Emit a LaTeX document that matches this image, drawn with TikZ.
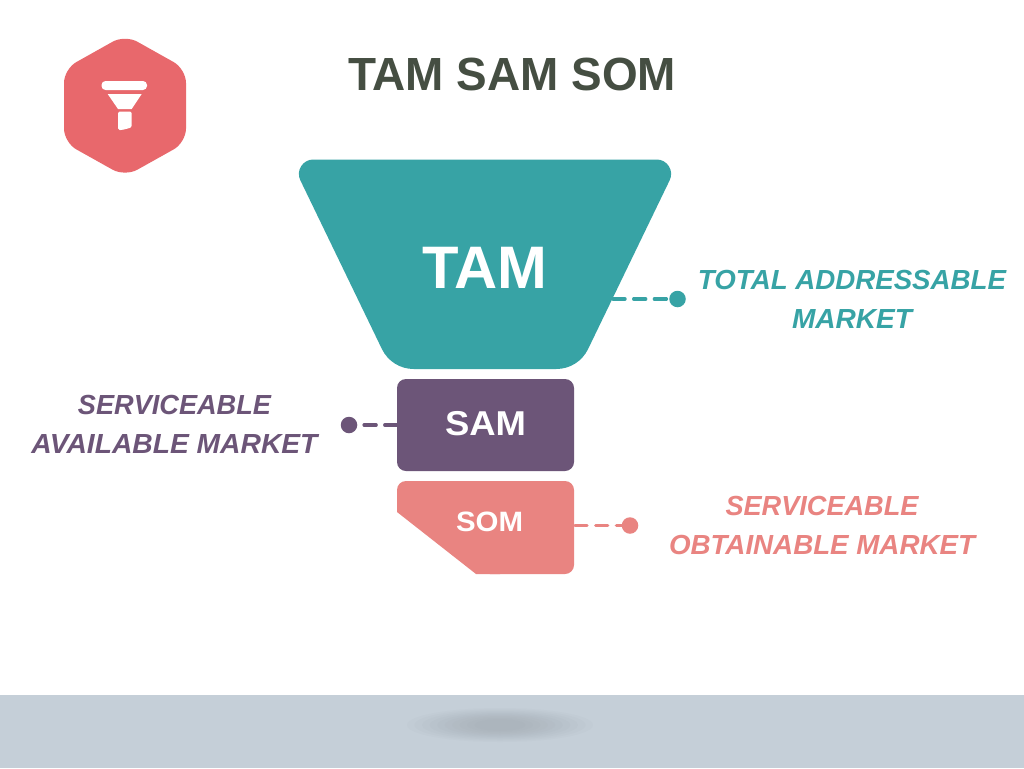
\documentclass[tikz,border=0pt]{standalone}
\usepackage{graphicx}
\usepackage{fontspec}
\setmainfont{Liberation Sans}
\newcommand{\fw}[2]{\resizebox{#1pt}{\height}{#2}}
\definecolor{tamc}{HTML}{37A3A5}
\definecolor{samc}{HTML}{6C5578}
\definecolor{somc}{HTML}{E98481}
\definecolor{hexc}{HTML}{E8686C}
\definecolor{titlec}{HTML}{454E42}
\definecolor{groundc}{HTML}{C5CFD8}
\definecolor{shadowc}{HTML}{8F969E}
\tikzset{
  x=1pt,y=-1pt,
  lead/.style={line width=3.4pt,line cap=round,dash pattern=on 12pt off 8.7pt},
  dotnode/.style={circle,inner sep=0pt,minimum size=16.5pt},
  labeltext/.style={align=center,inner sep=0pt,font=\fontsize{27.6}{39}\selectfont\bfseries\itshape},
  boxtext/.style={inner sep=0pt,text=white,font=\bfseries},
}
\begin{document}
\begin{tikzpicture}
\useasboundingbox (0,0) rectangle (1024,768);
\fill[white] (0,0) rectangle (1024,768);
% ground
\fill[groundc] (0,695) rectangle (1024,768);
\foreach \k in {1,...,10}{
  \fill[shadowc,opacity=0.05] (500,725) ellipse ({93-7.5*(\k-1)} and {17-1.25*(\k-1)});
}
% icon
\fill[hexc,rounded corners=14pt] (125,34.8) -- (186,69) -- (186,142.5) -- (125,176.6) -- (64,142.5) -- (64,69) -- cycle;
\fill[white,rounded corners=4pt] (101.5,81) rectangle (147,90);
\fill[white] (107.7,94) -- (141.7,94) -- (131.7,109) -- (118,109) -- cycle;
\fill[white,rounded corners=1.5pt] (118,111.5) -- (131.6,111.5) -- (131.6,127.5) -- (122,130) -- (118,130) -- cycle;
% title
\node[inner sep=0pt,text=titlec,font=\fontsize{46.5}{50}\selectfont\bfseries] (title) at (512,74) {\fw{328}{TAM SAM SOM}};
% funnel
\fill[tamc] (313.3,159.5) -- (656.7,159.5)
  .. controls (667.3,159.5) and (674.3,170.7) .. (669.7,180.2)
  -- (588,349.2)
  .. controls (582.1,361.3) and (569.8,369) .. (556.4,369)
  -- (413.6,369)
  .. controls (400.2,369) and (387.9,361.3) .. (382,349.2)
  -- (300.3,180.2)
  .. controls (295.7,170.7) and (302.7,159.5) .. (313.3,159.5) -- cycle;
\node[boxtext,font=\fontsize{60}{64}\selectfont\bfseries] (tam) at (485,267.5) {\fw{125}{TAM}};
\node[draw=none,fill=samc,rounded corners=9pt,minimum width=177pt,minimum height=92pt,inner sep=0pt] (sambox) at (485.5,425) {};
\node[boxtext,font=\fontsize{34.5}{38}\selectfont\bfseries] (sam) at (485.5,424) {\fw{81}{SAM}};
\fill[somc,rounded corners=9pt] (397,497) -- (397,481) -- (574,481) -- (574,574) -- (490,574);
\fill[somc] (397,490) -- (397,512) -- (476,574) -- (500,574) -- (500,490) -- cycle;
\node[boxtext,font=\fontsize{28}{30}\selectfont\bfseries] (som) at (489.5,522) {\fw{67}{SOM}};
% connectors
\coordinate (tamedge) at (613,299);
\coordinate (somedge) at (575,525.5);
\node[dotnode,fill=tamc] (tamdot) at (677.5,299) {};
\node[dotnode,fill=samc] (samdot) at (349,425) {};
\node[dotnode,fill=somc] (somdot) at (630,525.5) {};
\draw[lead,tamc] (tamedge) -- (tamdot.center);
\draw[lead,samc] (sambox.west) -- (samdot.center);
\draw[lead,somc] (somedge) -- (somdot.center);
% labels
\node[labeltext,text=tamc] (tamlabel) at (852,299.5) {\fw{308}{TOTAL ADDRESSABLE}\\\fw{120}{MARKET}};
\node[labeltext,text=samc] (samlabel) at (174.5,424) {\fw{193}{SERVICEABLE}\\\fw{286}{AVAILABLE MARKET}};
\node[labeltext,text=somc] (somlabel) at (822,525.5) {\fw{193}{SERVICEABLE}\\\fw{306}{OBTAINABLE MARKET}};
\end{tikzpicture}
\end{document}
